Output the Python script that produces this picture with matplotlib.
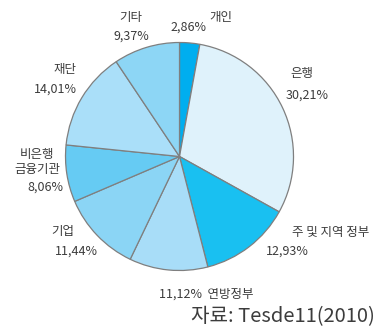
import matplotlib
matplotlib.use("Agg")
import matplotlib.pyplot as plt

plt.rcParams['font.family'] = ['Noto Sans CJK KR', 'DejaVu Sans']

# Shares of holders, clockwise from 12 o'clock
labels = ['개인', '은행', '주 및 지역 정부', '연방정부', '기업', '비은행\n금융기관', '재단', '기타']
shares = [2.86, 30.21, 12.93, 11.12, 11.44, 8.06, 14.01, 9.37]
colors = ['#00aeef', '#dff2fb', '#19c0f1', '#a8ddf8', '#8bd5f5', '#66cbf3', '#aadff9', '#8dd6f5']

W, H = 377, 334
fig = plt.figure(figsize=(W / 100, H / 100), dpi=100)

# pie sits in a square axes, center (179.5, 156.5) px, radius 114 px
cx, cy, r = 179.5, 156.5, 114
ax = fig.add_axes([(cx - r) / W, (H - cy - r) / H, 2 * r / W, 2 * r / H])
ax.pie(shares, colors=colors, startangle=90, counterclock=False,
       wedgeprops=dict(edgecolor='#7f7f7f', linewidth=0.9))
ax.set_xlim(-1, 1)
ax.set_ylim(-1, 1)
ax.axis('off')

txt = '#3c3c3c'
fs = 9

def put(x, y, s, ha='center', size=fs):
    fig.text(x / W, 1 - y / H, s, ha=ha, va='center', fontsize=size, color=txt,
             linespacing=1.25, fontweight='light')

# decimal comma in the percent labels
pct = [('%.2f%%' % v).replace('.', ',') for v in shares]

put(221, 17, labels[0])
put(188, 27, pct[0])
put(302, 74, labels[1])
put(307, 95, pct[1])
put(331, 232, labels[2])
put(287, 251, pct[2])
put(206, 294, pct[3] + '  ' + labels[3])
put(63, 232, labels[4])
put(76, 251, pct[4])
put(37, 162, labels[5])
put(45, 187, pct[5])
put(65, 70, labels[6])
put(55, 89, pct[6])
put(131, 17, labels[7])
put(131, 36, pct[7])

put(375, 317, '자료: Tesde11(2010)', ha='right', size=14.5)

fig.savefig('out.png', dpi=100)
